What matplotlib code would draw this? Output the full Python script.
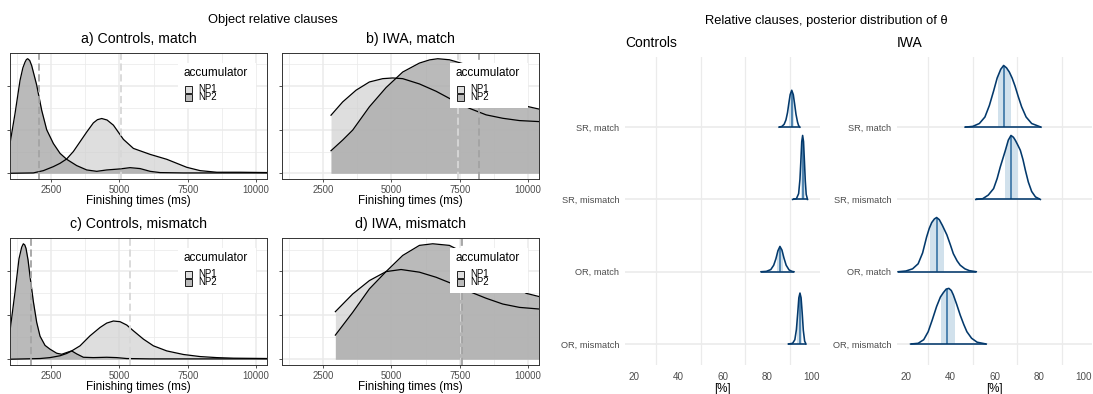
import matplotlib.pyplot as plt
from matplotlib.colors import to_rgba
from matplotlib.patches import Polygon, Rectangle

plt.rcParams['font.family'] = ['Liberation Sans', 'DejaVu Sans']

# ---------------- left: finishing-time densities (height relative to tallest curve)
# a) Controls, match
a_np1_ms = [1000, 1854, 2220, 2586, 2830, 3074, 3318, 3562, 3806, 4050, 4200, 4355, 4550,
            4782, 5148, 5514, 6124, 6734, 7100, 7466, 7954, 8564, 9418, 10500]
a_np1_d = [0, 0.003, 0.023, 0.058, 0.087, 0.125, 0.19, 0.275, 0.36, 0.44, 0.468, 0.478,
           0.465, 0.42, 0.296, 0.217, 0.165, 0.122, 0.087, 0.052, 0.023, 0.009, 0.009, 0.006]
a_np2_ms = [850, 1000, 1183, 1366, 1470, 1549, 1600, 1647, 1720, 1793, 1976, 2159, 2342,
            2586, 2830, 3074, 3440, 3806, 4172, 4538, 5026, 5392, 5758, 6124, 6490, 7344,
            10500]
a_np2_d = [0.05, 0.26, 0.52, 0.81, 0.92, 0.97, 0.993, 1.0, 0.985, 0.94, 0.77, 0.55, 0.38,
           0.26, 0.174, 0.122, 0.067, 0.029, 0.017, 0.029, 0.038, 0.049, 0.041, 0.017,
           0.006, 0.003, 0.003]
a_medians = [5050, 2060]

# b) IWA, match
b_np1_ms = [2793, 3220, 3708, 4196, 4684, 5050, 5416, 6026, 6636, 7246, 7856, 8466,
            9076, 9686, 10500]
b_np1_d = [0.507, 0.623, 0.725, 0.797, 0.826, 0.832, 0.826, 0.78, 0.716, 0.638, 0.567,
           0.51, 0.48, 0.46, 0.45]
b_np2_ms = [2793, 3220, 3586, 4196, 4806, 5416, 6026, 6400, 6697, 7124, 7612, 8466, 9076,
            9930, 10500]
b_np2_d = [0.197, 0.29, 0.377, 0.58, 0.748, 0.884, 0.962, 0.99, 1.0, 0.991, 0.957, 0.84,
           0.74, 0.586, 0.555]
b_medians = [7450, 8190]

# c) Controls, mismatch
c_np1_ms = [1000, 2098, 2464, 2830, 3074, 3257, 3562, 3928, 4294, 4538, 4782, 5026,
            5270, 5514, 5880, 6246, 6734, 7344, 7954, 8564, 9174, 10500]
c_np1_d = [0, 0.006, 0.014, 0.03, 0.05, 0.072, 0.116, 0.203, 0.275, 0.313, 0.331, 0.325,
           0.296, 0.246, 0.174, 0.116, 0.072, 0.041, 0.023, 0.014, 0.009, 0.006]
c_np2_ms = [850, 1000, 1183, 1329, 1427, 1488, 1540, 1586, 1660, 1732, 1854, 1976, 2098,
            2281, 2464, 2708, 2891, 3074, 3257, 3440, 3684, 4050, 4538, 4904, 5270, 6124,
            10500]
c_np2_d = [0.05, 0.246, 0.58, 0.87, 0.97, 1.0, 0.99, 0.96, 0.86, 0.72, 0.50, 0.32, 0.2,
           0.12, 0.087, 0.052, 0.043, 0.058, 0.072, 0.046, 0.017, 0.014, 0.017, 0.014,
           0.006, 0.003, 0.003]
c_medians = [5390, 1760]

# d) IWA, mismatch
d_np1_ms = [2952, 3586, 4196, 4806, 5355, 6026, 6636, 7246, 7856, 8466, 9076, 9686, 10500]
d_np1_d = [0.412, 0.565, 0.681, 0.759, 0.777, 0.754, 0.71, 0.652, 0.586, 0.528, 0.478,
           0.449, 0.433]
d_np2_ms = [2952, 3586, 4196, 4806, 5416, 6026, 6514, 7124, 7612, 8466, 9076, 9930, 10500]
d_np2_d = [0.209, 0.406, 0.609, 0.759, 0.899, 0.986, 1.0, 0.986, 0.928, 0.81, 0.71, 0.571,
           0.537]
d_medians = [7555, 7600]

panel_titles = ["a) Controls, match", "b) IWA, match",
                "c) Controls, mismatch", "d) IWA, mismatch"]
accumulators = ["NP1", "NP2"]

# ---------------- right: posterior of theta [%], heights in row units
ridge_labels = ["SR, match", "SR, mismatch", "OR, match", "OR, mismatch"]

ctrl_sr_match_x = [85.2, 86.5, 87.5, 88.3, 89.0, 89.6, 90.2, 90.9, 91.6, 92.2, 92.8,
                   93.5, 94.0, 94.6]
ctrl_sr_match_h = [0, 0.01, 0.04, 0.10, 0.20, 0.33, 0.45, 0.51, 0.45, 0.32, 0.18,
                   0.07, 0.02, 0]
ctrl_sr_mism_x = [91.3, 93.0, 94.0, 94.6, 95.0, 95.4, 95.8, 96.2, 96.6, 97.0, 97.4, 98.0]
ctrl_sr_mism_h = [0, 0.01, 0.08, 0.28, 0.53, 0.80, 0.885, 0.80, 0.53, 0.25, 0.07, 0]
ctrl_or_match_x = [77.1, 79.5, 81.5, 82.8, 83.8, 84.7, 85.6, 86.5, 87.4, 88.4, 89.7,
                   91.0, 91.9]
ctrl_or_match_h = [0, 0.005, 0.03, 0.09, 0.18, 0.29, 0.35, 0.30, 0.19, 0.09, 0.025,
                   0.005, 0]
ctrl_or_mism_x = [89.4, 91.3, 92.3, 93.0, 93.6, 94.1, 94.6, 95.1, 95.6, 96.1, 96.7, 97.3]
ctrl_or_mism_h = [0, 0.01, 0.06, 0.20, 0.43, 0.64, 0.705, 0.64, 0.43, 0.19, 0.04, 0]
ctrl_median = [91.0, 95.8, 85.6, 94.6]
ctrl_lo = [89.5, 94.9, 84.1, 93.4]
ctrl_hi = [92.0, 96.7, 87.1, 95.7]

iwa_sr_match_x = [46.6, 50.0, 53.0, 55.5, 57.5, 59.4, 61.0, 62.6, 63.9, 65.2, 66.5,
                  67.7, 69.0, 70.5, 72.0, 74.0, 76.5, 80.7]
iwa_sr_match_h = [0, 0.01, 0.05, 0.14, 0.30, 0.50, 0.68, 0.80, 0.853, 0.82, 0.76,
                  0.68, 0.57, 0.42, 0.28, 0.14, 0.05, 0]
iwa_sr_mism_x = [51.4, 54.5, 57.0, 59.4, 61.0, 62.4, 63.7, 64.7, 66.0, 67.2, 68.3, 69.2,
                 70.3, 71.4, 72.6, 73.7, 75.0, 76.5, 78.2, 80.4]
iwa_sr_mism_h = [0, 0.01, 0.06, 0.15, 0.29, 0.45, 0.58, 0.68, 0.82, 0.885, 0.86, 0.816,
                 0.75, 0.68, 0.55, 0.40, 0.24, 0.11, 0.035, 0]
iwa_or_match_x = [16.5, 20.0, 23.0, 25.5, 27.5, 29.3, 30.5, 31.6, 32.8, 33.8, 35.0, 36.4,
                  38.4, 40.0, 41.3, 43.0, 44.4, 46.5, 48.5, 51.6]
iwa_or_match_h = [0, 0.01, 0.04, 0.11, 0.26, 0.48, 0.60, 0.68, 0.73, 0.75, 0.72, 0.64,
                  0.51, 0.37, 0.25, 0.15, 0.09, 0.04, 0.015, 0]
iwa_or_mism_x = [22.1, 25.5, 28.0, 30.0, 31.8, 33.8, 35.5, 36.8, 38.1, 39.3, 40.4, 41.3,
                 42.8, 44.4, 46.0, 47.4, 49.5, 52.0, 56.1]
iwa_or_mism_h = [0, 0.01, 0.06, 0.17, 0.33, 0.52, 0.65, 0.71, 0.76, 0.77, 0.74, 0.68,
                 0.55, 0.40, 0.27, 0.17, 0.08, 0.025, 0]
iwa_median = [64.0, 67.3, 33.9, 38.6]
iwa_lo = [61.5, 64.6, 30.8, 35.8]
iwa_hi = [67.1, 70.3, 37.3, 42.0]

pct_ticks = [20, 40, 60, 80, 100]

# ---------------- styles
np1_fill, np2_fill = "#d0d0d0", "#aeaeae"
np1_alpha, np2_alpha = 0.7, 0.85
np1_vline, np2_vline = "#d8d8d8", "#a3a3a3"
grid_col = "#ebebeb"
txt_grey = "#4d4d4d"
blue_light, blue_mid, blue_dark = "#d1e1ec", "#2a6a9e", "#03396c"

W, H = 1093, 394
fig = plt.figure(figsize=(W / 100, H / 100), dpi=100)


def rect(box):
    l, t, r, b = box
    return [l / W, 1 - b / H, (r - l) / W, (b - t) / H]


def draw_legend(ax, box):
    # ggplot-style legend placed inside the panel (offsets in pixels from top-left)
    l, t, r, b = box
    aw, ah = r - l, b - t

    def pos(dx, dy):
        return dx / aw, 1 - dy / ah

    ax.add_patch(Rectangle(pos(168, 55), 78 / aw, 45 / ah, transform=ax.transAxes,
                           facecolor="white", edgecolor="none", zorder=9))
    ax.text(*pos(174, 20), "accumulator", transform=ax.transAxes, ha="left",
            va="center", fontsize=8.5, zorder=10)
    fills = [to_rgba(np1_fill, np1_alpha), to_rgba(np2_fill, np2_alpha)]
    for i, (lab, fc) in enumerate(zip(accumulators, fills)):
        top = 32.5 + 8 * i
        ax.add_patch(Rectangle(pos(175, top + 7), 7 / aw, 7 / ah, transform=ax.transAxes,
                               facecolor=fc, edgecolor="black", lw=0.6, zorder=10))
        ax.text(*pos(188, top + 3.8), lab, transform=ax.transAxes, ha="left",
                va="center", fontsize=7, zorder=10)


def density_panel(ax, box, np1_ms, np1_d, np2_ms, np2_d, medians, title):
    ax.fill_between(np1_ms, np1_d, color=np1_fill, alpha=np1_alpha, lw=0)
    ax.plot(np1_ms, np1_d, color="black", lw=0.9)
    ax.fill_between(np2_ms, np2_d, color=np2_fill, alpha=np2_alpha, lw=0)
    ax.plot(np2_ms, np2_d, color="black", lw=0.9)
    ax.axvline(medians[0], color=np1_vline, ls=(0, (4, 2)), lw=1.3)
    ax.axvline(medians[1], color=np2_vline, ls=(0, (4, 2)), lw=1.3)
    ax.set_xlim(1000, 10400)
    ax.set_ylim(-0.05, 1.05)
    ax.set_xticks([2500, 5000, 7500, 10000])
    ax.set_xticks([1250, 3750, 6250, 8750], minor=True)
    ax.set_yticks([0, 0.38, 0.76])
    ax.set_yticks([0.19, 0.57, 0.95], minor=True)
    ax.set_yticklabels([])
    ax.grid(which="major", color=grid_col, lw=1.1)
    ax.grid(which="minor", color=grid_col, lw=0.55)
    ax.set_axisbelow(True)
    ax.tick_params(which="major", length=2.5, width=0.6, color="#333333",
                   labelsize=6.9, labelcolor=txt_grey, pad=1.5)
    ax.tick_params(which="minor", length=0)
    for s in ax.spines.values():
        s.set_color("#333333")
        s.set_linewidth(0.7)
    ax.set_xlabel("Finishing times (ms)", fontsize=8.4, labelpad=0.5)
    ax.set_title(title, fontsize=10.2, pad=7)
    draw_legend(ax, box)


left_boxes = [(10, 53, 267, 179), (282, 53, 539, 179),
              (10, 238, 267, 365), (282, 238, 539, 365)]
left_data = [(a_np1_ms, a_np1_d, a_np2_ms, a_np2_d, a_medians),
             (b_np1_ms, b_np1_d, b_np2_ms, b_np2_d, b_medians),
             (c_np1_ms, c_np1_d, c_np2_ms, c_np2_d, c_medians),
             (d_np1_ms, d_np1_d, d_np2_ms, d_np2_d, d_medians)]
for box, dat, title in zip(left_boxes, left_data, panel_titles):
    ax = fig.add_axes(rect(box))
    density_panel(ax, box, *dat, title)

fig.text(273 / W, 1 - 23.5 / H, "Object relative clauses", ha="center",
         va="baseline", fontsize=9.3)
fig.text(826 / W, 1 - 24.3 / H, "Relative clauses, posterior distribution of θ",
         ha="center", va="baseline", fontsize=9.3)


def ridge_panel(ax, curves, medians, lows, highs, title):
    rows = [4, 3, 2, 1]
    for (xs, hs), row, med, lo, hi in zip(curves, rows, medians, lows, highs):
        ys = [row + h for h in hs]
        outline = list(zip(xs, ys)) + [(xs[-1], row), (xs[0], row)]
        shape = Polygon(outline, closed=True, transform=ax.transData)
        inner = Polygon(outline, closed=True, facecolor=blue_light, edgecolor="none",
                        zorder=2)
        ax.add_patch(inner)
        inner.set_clip_path(Rectangle((lo, row), hi - lo, 1, transform=ax.transData))
        med_line = ax.vlines(med, row, row + 1, color=blue_mid, lw=1.1, zorder=3)
        med_line.set_clip_path(shape)
        ax.plot(xs, ys, color=blue_dark, lw=1.15, zorder=4, solid_joinstyle="round")
        ax.hlines(row, xs[0], xs[-1], color=blue_dark, lw=1.15, zorder=4)
    ax.set_xlim(16, 103.6)
    ax.set_ylim(0.71, 4.97)
    ax.set_yticks(rows)
    ax.set_yticklabels(ridge_labels)
    ax.set_xticks(pct_ticks)
    ax.set_xticks([10 * k for k in range(2, 11)], minor=True)
    ax.grid(which="minor", axis="x", color=grid_col, lw=0.9)
    ax.grid(which="major", axis="y", color=grid_col, lw=1.2)
    ax.set_axisbelow(True)
    ax.tick_params(which="both", length=0, labelcolor=txt_grey)
    ax.tick_params(axis="x", pad=5, labelsize=7.1)
    ax.tick_params(axis="y", pad=4, labelsize=6.7)
    for s in ax.spines.values():
        s.set_visible(False)
    ax.set_xlabel("[%]", fontsize=8.3, labelpad=1)
    ax.set_title(title, loc="left", fontsize=10, pad=7)


ax_ctrl = fig.add_axes(rect((625, 57, 820, 365)))
ax_iwa = fig.add_axes(rect((897, 57, 1092, 365)))
ridge_panel(ax_ctrl,
            [(ctrl_sr_match_x, ctrl_sr_match_h), (ctrl_sr_mism_x, ctrl_sr_mism_h),
             (ctrl_or_match_x, ctrl_or_match_h), (ctrl_or_mism_x, ctrl_or_mism_h)],
            ctrl_median, ctrl_lo, ctrl_hi, "Controls")
ridge_panel(ax_iwa,
            [(iwa_sr_match_x, iwa_sr_match_h), (iwa_sr_mism_x, iwa_sr_mism_h),
             (iwa_or_match_x, iwa_or_match_h), (iwa_or_mism_x, iwa_or_mism_h)],
            iwa_median, iwa_lo, iwa_hi, "IWA")

fig.savefig("out.png", dpi=100)
